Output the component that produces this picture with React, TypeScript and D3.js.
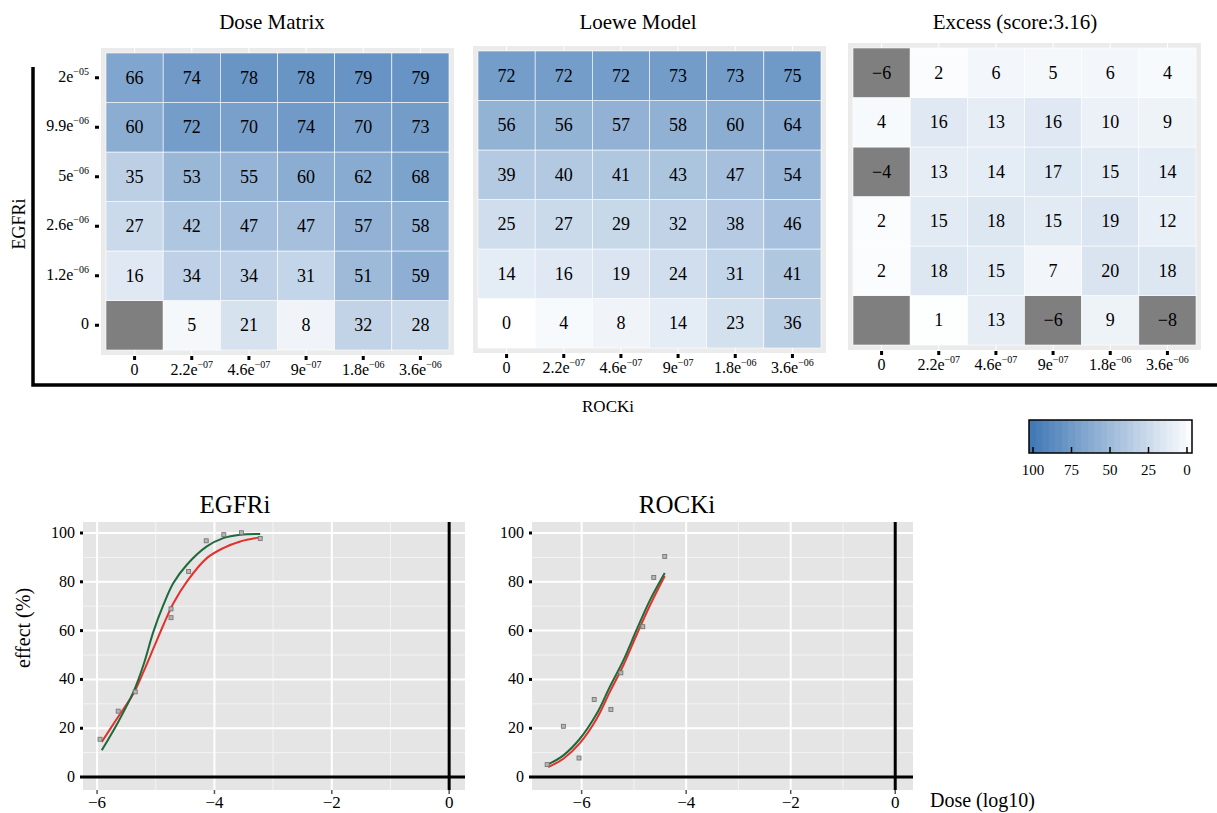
import * as d3 from 'd3'

const FONT = "'Liberation Serif', 'Times New Roman', serif"

// ROCKi doses (columns) and EGFRi doses (rows, lowest first)
const rockiLabels = ['0', '2.2e-07', '4.6e-07', '9e-07', '1.8e-06', '3.6e-06']
const egfriLabels = ['0', '1.2e-06', '2.6e-06', '5e-06', '9.9e-06', '2e-05']

// rows follow egfriLabels, columns follow rockiLabels; null = no value
const doseMatrix = [
  [null, 5, 21, 8, 32, 28],
  [16, 34, 34, 31, 51, 59],
  [27, 42, 47, 47, 57, 58],
  [35, 53, 55, 60, 62, 68],
  [60, 72, 70, 74, 70, 73],
  [66, 74, 78, 78, 79, 79],
]
const loeweModel = [
  [0, 4, 8, 14, 23, 36],
  [14, 16, 19, 24, 31, 41],
  [25, 27, 29, 32, 38, 46],
  [39, 40, 41, 43, 47, 54],
  [56, 56, 57, 58, 60, 64],
  [72, 72, 72, 73, 73, 75],
]
const excess = [
  [null, 1, 13, -6, 9, -8],
  [2, 18, 15, 7, 20, 18],
  [2, 15, 18, 15, 19, 12],
  [-4, 13, 14, 17, 15, 14],
  [4, 16, 13, 16, 10, 9],
  [-6, 2, 6, 5, 6, 4],
]
const legendTicks = [100, 75, 50, 25, 0]

// single drug dose response: [log10 dose, effect]
const egfriPoints = [
  [-5.95, 15.5], [-5.64, 27.0], [-5.35, 34.9], [-4.74, 68.9], [-4.74, 65.3],
  [-4.44, 84.2], [-4.14, 96.8], [-3.84, 99.3], [-3.54, 100.1], [-3.22, 97.7],
]
const egfriGreen = [
  [-5.92, 11.0], [-5.64, 22.6], [-5.38, 34.9], [-5.21, 45.9], [-5.04, 59.6],
  [-4.87, 70.5], [-4.7, 79.5], [-4.47, 87.0], [-4.13, 94.5], [-3.85, 97.9],
  [-3.56, 99.3], [-3.22, 99.6],
]
const egfriRed = [
  [-5.92, 14.4], [-5.64, 24.7], [-5.38, 34.2], [-5.21, 43.1], [-5.04, 52.7],
  [-4.87, 62.3], [-4.7, 71.2], [-4.47, 80.1], [-4.13, 89.7], [-3.85, 93.8],
  [-3.56, 96.5], [-3.22, 98.2],
]
const rockiPoints = [
  [-6.66, 5.1], [-6.35, 20.8], [-6.05, 7.8], [-5.76, 31.8], [-5.44, 27.7],
  [-5.25, 42.7], [-4.83, 61.6], [-4.62, 81.8], [-4.41, 90.4],
]
const rockiGreen = [
  [-6.64, 5.2], [-6.35, 8.9], [-6.03, 15.8], [-5.71, 26.0], [-5.46, 37.0],
  [-5.2, 47.9], [-4.95, 60.3], [-4.69, 72.6], [-4.41, 83.6],
]
const rockiRed = [
  [-6.64, 4.1], [-6.35, 7.5], [-6.03, 14.0], [-5.71, 24.0], [-5.46, 34.9],
  [-5.2, 45.9], [-4.95, 58.2], [-4.69, 70.5], [-4.41, 82.4],
]
const effectTicks = [0, 20, 40, 60, 80, 100]
const effectMinor = [10, 30, 50, 70, 90]
const doseTicks = [-6, -4, -2, 0]
const doseMinor = [-7, -5, -3, -1]

const color = d3.scaleLinear<string>().domain([0, 100]).range(['#ffffff', '#3f77b4']).clamp(true)
const NA_COLOR = '#7f7f7f'

function SciLabel({ label, x, y, anchor }) {
  const parts = label.split('e')
  if (parts.length < 2) {
    return (
      <text x={x} y={y} textAnchor={anchor} fontSize={16}>
        {label}
      </text>
    )
  }
  return (
    <text x={x} y={y} textAnchor={anchor} fontSize={16}>
      {parts[0]}e
      <tspan fontSize={10} dy={-7}>
        {parts[1].replace('-', '\u2212')}
      </tspan>
    </text>
  )
}

function Heatmap({ title, data, left, top, titleX, showY }) {
  const w = 343
  const h = 297
  const x = d3.scaleBand().domain(rockiLabels).range([left, left + w])
  const y = d3.scaleBand().domain([...egfriLabels].reverse()).range([top, top + h])
  const pad = 5
  const bottom = top + h + pad
  return (
    <g>
      <text x={titleX} y={29} textAnchor="middle" fontSize={21}>
        {title}
      </text>
      <rect x={left - pad} y={top - pad} width={w + 2 * pad} height={h + 2 * pad} fill="#ebebeb" />
      {rockiLabels.map((r) => (
        <line key={r} x1={x(r) + x.bandwidth() / 2} x2={x(r) + x.bandwidth() / 2} y1={top - pad} y2={bottom} stroke="#fff" />
      ))}
      {data.map((row, i) =>
        row.map((v, j) => {
          const cx = x(rockiLabels[j])
          const cy = y(egfriLabels[i])
          const fill = v === null || v < 0 ? NA_COLOR : color(v)
          return (
            <g key={`${i}-${j}`}>
              <rect x={cx} y={cy} width={x.bandwidth()} height={y.bandwidth()} fill={fill} stroke="#fff" strokeWidth={0.6} />
              {v !== null && (
                <text x={cx + x.bandwidth() / 2} y={cy + y.bandwidth() / 2 + 6} textAnchor="middle" fontSize={18}>
                  {String(v).replace('-', '\u2212')}
                </text>
              )}
            </g>
          )
        })
      )}
      {rockiLabels.map((r) => {
        const cx = x(r) + x.bandwidth() / 2
        return (
          <g key={r}>
            <rect x={cx - 1.5} y={bottom + 1} width={3} height={4} fill="#000" />
            <SciLabel label={r} x={cx} y={bottom + 20} anchor="middle" />
          </g>
        )
      })}
      {showY &&
        egfriLabels.map((e) => {
          const cy = y(e) + y.bandwidth() / 2
          return (
            <g key={e}>
              <rect x={left - pad - 6} y={cy - 1.5} width={4} height={3} fill="#000" />
              <SciLabel label={e} x={left - pad - 12} y={cy + 4} anchor="end" />
            </g>
          )
        })}
    </g>
  )
}

function DosePlot({ title, points, green, red, xDomain, xRange, titleX }) {
  const x = d3.scaleLinear().domain(xDomain).range(xRange)
  const y = d3.scaleLinear().domain([-5.3, 104.5]).range([790, 522])
  const [x0, x1] = xRange
  const line = d3
    .line<number[]>()
    .x((d) => x(d[0]))
    .y((d) => y(d[1]))
    .curve(d3.curveCatmullRom.alpha(0.5))
  const minorX = doseMinor.filter((v) => v > xDomain[0] && v < xDomain[1])
  return (
    <g>
      <text x={titleX} y={513} textAnchor="middle" fontSize={25}>
        {title}
      </text>
      <rect x={x0} y={522} width={x1 - x0} height={268} fill="#e5e5e5" />
      {effectMinor.map((v) => (
        <line key={v} x1={x0} x2={x1} y1={y(v)} y2={y(v)} stroke="#f4f4f4" strokeWidth={1} />
      ))}
      {minorX.map((v) => (
        <line key={v} x1={x(v)} x2={x(v)} y1={522} y2={790} stroke="#f4f4f4" strokeWidth={1} />
      ))}
      {effectTicks.map((v) => (
        <line key={v} x1={x0} x2={x1} y1={y(v)} y2={y(v)} stroke="#fff" strokeWidth={2} />
      ))}
      {doseTicks.map((v) => (
        <line key={v} x1={x(v)} x2={x(v)} y1={522} y2={790} stroke="#fff" strokeWidth={2} />
      ))}
      <line x1={x0 - 3} x2={x1} y1={y(0)} y2={y(0)} stroke="#000" strokeWidth={3} />
      <line x1={x(0)} x2={x(0)} y1={522} y2={790} stroke="#000" strokeWidth={3} />
      <path d={line(red)} fill="none" stroke="#e2322c" strokeWidth={2} />
      <path d={line(green)} fill="none" stroke="#1d6a3a" strokeWidth={2} />
      {points.map((p, i) => (
        <rect key={i} x={x(p[0]) - 2} y={y(p[1]) - 2} width={4} height={4} fill="#b5b5b5" stroke="#6e6e6e" strokeWidth={0.8} />
      ))}
      {effectTicks.map((v) => (
        <g key={v}>
          {v > 0 && <rect x={x0 - 3} y={y(v) - 1.5} width={3} height={3} fill="#000" />}
          <text x={x0 - 8} y={y(v) + 5} textAnchor="end" fontSize={16}>
            {v}
          </text>
        </g>
      ))}
      {doseTicks.map((v) => (
        <g key={v}>
          <line x1={x(v)} x2={x(v)} y1={790} y2={794} stroke="#555" strokeWidth={1.5} />
          <text x={x(v)} y={808} textAnchor="middle" fontSize={17}>
            {String(v).replace('-', '\u2212')}
          </text>
        </g>
      ))}
    </g>
  )
}

function Legend() {
  const x = d3.scaleLinear().domain([100, 0]).range([1033, 1187])
  const steps = d3.range(0, 100, 4)
  const bx0 = 1029
  const bx1 = 1192
  const bandX = d3.scaleLinear().domain([100, 0]).range([bx0, bx1])
  return (
    <g>
      {steps.map((s) => (
        <rect key={s} x={bandX(s + 4)} y={420} width={bandX(s) - bandX(s + 4) + 0.5} height={33} fill={color(s + 2)} />
      ))}
      <rect x={bx0} y={420} width={bx1 - bx0} height={33} fill="none" stroke="#000" strokeWidth={1.5} />
      {legendTicks.map((t) => (
        <g key={t}>
          <line x1={x(t)} x2={x(t)} y1={447} y2={453} stroke="#000" strokeWidth={1.5} />
          <text x={x(t)} y={475} textAnchor="middle" fontSize={15}>
            {t}
          </text>
        </g>
      ))}
    </g>
  )
}

export default function App() {
  return (
    <svg
      width={1217}
      height={813}
      style={{ position: 'absolute', left: 0, top: 0, background: '#fff', fontFamily: FONT }}
    >
      <Heatmap title="Dose Matrix" data={doseMatrix} left={106} top={53} titleX={272} showY={true} />
      <Heatmap title="Loewe Model" data={loeweModel} left={478} top={51} titleX={638} showY={false} />
      <Heatmap title="Excess (score:3.16)" data={excess} left={853} top={48} titleX={1015} showY={false} />
      <path d="M33,67 V385 H1217" fill="none" stroke="#000" strokeWidth={3.5} />
      <text transform="translate(25,224) rotate(-90)" textAnchor="middle" fontSize={18}>
        EGFRi
      </text>
      <text x={608} y={412} textAnchor="middle" fontSize={17}>
        ROCKi
      </text>
      <Legend />
      <DosePlot
        title="EGFRi"
        points={egfriPoints}
        green={egfriGreen}
        red={egfriRed}
        xDomain={[-6.24, 0.27]}
        xRange={[83, 465]}
        titleX={235}
      />
      <DosePlot
        title="ROCKi"
        points={rockiPoints}
        green={rockiGreen}
        red={rockiRed}
        xDomain={[-6.95, 0.34]}
        xRange={[532, 913]}
        titleX={677}
      />
      <text transform="translate(30,628) rotate(-90)" textAnchor="middle" fontSize={20}>
        effect (%)
      </text>
      <text x={930} y={807} fontSize={20}>
        Dose (log10)
      </text>
    </svg>
  )
}
